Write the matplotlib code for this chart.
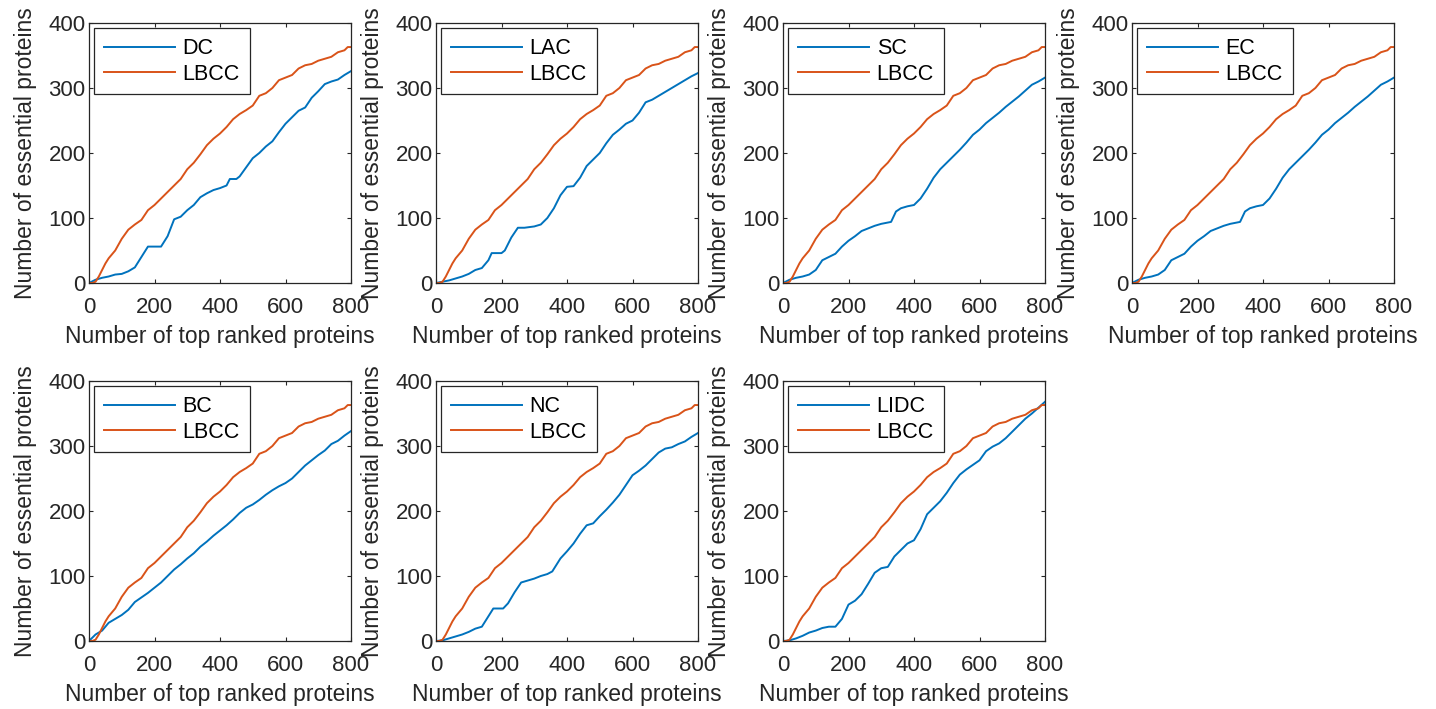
import matplotlib.pyplot as plt
import numpy as np

plt.rcParams['font.family'] = ['Liberation Sans', 'DejaVu Sans']

# x positions (number of top ranked proteins) and LBCC curve, shared by all panels
lbcc_x = [0, 10, 20, 30, 40, 50, 60, 80, 100, 120, 140, 160, 180, 200, 220, 240, 260, 280,
          300, 320, 340, 360, 380, 400, 420, 440, 460, 480, 500, 520, 540, 560, 580, 600,
          620, 640, 660, 680, 700, 720, 740, 760, 780, 790, 800]
lbcc_y = [0, 0, 2, 10, 20, 30, 38, 50, 68, 82, 90, 97, 112, 120, 130, 140, 150, 160,
          175, 185, 198, 212, 222, 230, 240, 252, 260, 266, 273, 288, 292, 300, 312, 316,
          320, 330, 335, 337, 342, 345, 348, 355, 358, 363, 363]

dc_x = [0, 20, 40, 60, 80, 100, 120, 140, 160, 180, 200, 220, 240, 260, 280, 300, 320, 340,
        360, 380, 400, 420, 430, 450, 460, 480, 500, 520, 540, 560, 580, 600, 620, 640, 660,
        680, 700, 720, 740, 760, 780, 800]
dc_y = [0, 5, 8, 10, 13, 14, 18, 24, 40, 56, 56, 56, 72, 98, 102, 112, 120, 132,
        138, 143, 146, 150, 160, 160, 164, 178, 192, 200, 210, 218, 232, 245, 255, 265, 270,
        285, 295, 306, 310, 313, 320, 326]

lac_x = [0, 20, 40, 60, 80, 100, 120, 140, 160, 170, 200, 210, 230, 250, 270, 300, 320, 340,
         360, 380, 400, 420, 440, 460, 480, 500, 520, 540, 560, 580, 600, 620, 640, 660, 680,
         700, 720, 740, 760, 780, 800]
lac_y = [0, 2, 4, 7, 10, 14, 20, 23, 35, 46, 46, 50, 70, 85, 85, 87, 90, 100,
         115, 135, 148, 149, 162, 180, 190, 200, 215, 228, 236, 245, 250, 262, 278, 282, 288,
         294, 300, 306, 312, 318, 323]

sc_x = [0, 20, 40, 60, 80, 100, 120, 140, 160, 180, 200, 220, 240, 260, 280, 300, 320, 330,
        345, 360, 380, 400, 420, 440, 460, 480, 500, 520, 540, 560, 580, 600, 620, 640, 660,
        680, 700, 720, 740, 760, 780, 800]
sc_y = [0, 5, 8, 10, 13, 20, 35, 40, 45, 56, 65, 72, 80, 84, 88, 91, 93, 94,
        110, 115, 118, 120, 130, 145, 162, 175, 185, 195, 205, 216, 228, 236, 246, 254, 262,
        271, 279, 287, 296, 305, 310, 316]

ec_x = sc_x
ec_y = [0, 5, 8, 10, 13, 20, 35, 40, 45, 56, 65, 72, 80, 84, 88, 91, 93, 94,
        110, 115, 118, 120, 130, 145, 162, 175, 185, 195, 205, 216, 228, 236, 246, 254, 262,
        271, 279, 287, 296, 305, 310, 316]

bc_x = [0, 10, 20, 40, 60, 80, 100, 120, 140, 160, 180, 200, 220, 240, 260, 280, 300, 320,
        340, 360, 380, 400, 420, 440, 460, 480, 500, 520, 540, 560, 580, 600, 620, 640, 660,
        680, 700, 720, 740, 760, 780, 800]
bc_y = [0, 5, 10, 16, 28, 34, 40, 48, 60, 67, 74, 82, 90, 100, 110, 118, 127, 135,
        145, 153, 162, 170, 178, 187, 197, 205, 210, 217, 225, 232, 238, 243, 250, 260, 270,
        278, 286, 293, 303, 308, 316, 323]

nc_x = [0, 20, 40, 60, 80, 100, 120, 140, 160, 175, 205, 220, 240, 260, 280, 300, 320, 340,
        355, 380, 400, 420, 440, 460, 480, 500, 520, 540, 560, 580, 600, 620, 640, 660, 680,
        700, 720, 740, 760, 780, 800]
nc_y = [0, 1, 4, 7, 10, 14, 19, 22, 38, 50, 50, 58, 75, 90, 93, 96, 100, 103,
        107, 127, 138, 150, 165, 178, 181, 192, 202, 213, 225, 240, 255, 262, 270, 280, 290,
        296, 298, 303, 307, 314, 320]

lidc_x = [0, 20, 40, 60, 80, 100, 120, 140, 160, 180, 200, 220, 240, 260, 280, 300, 320, 340,
          360, 380, 400, 420, 440, 460, 480, 500, 520, 540, 560, 580, 600, 620, 640, 660, 680,
          700, 720, 740, 760, 780, 800]
lidc_y = [0, 1, 4, 8, 13, 16, 20, 22, 22, 34, 56, 62, 72, 88, 105, 112, 114, 130,
          140, 150, 155, 172, 195, 205, 215, 228, 243, 256, 264, 271, 278, 292, 299, 304, 312,
          322, 332, 342, 350, 359, 368]

methods = ['DC', 'LAC', 'SC', 'EC', 'BC', 'NC', 'LIDC']
method_x = [dc_x, lac_x, sc_x, ec_x, bc_x, nc_x, lidc_x]
method_y = [dc_y, lac_y, sc_y, ec_y, bc_y, nc_y, lidc_y]

blue = '#0072BD'
orange = '#D95319'
dark = '#262626'

W, H = 1436, 709
fig = plt.figure(figsize=(W / 100, H / 100), dpi=100)

# axes boxes in pixels: left, top
lefts = [89, 436, 783, 1132]
tops = [23, 381]
aw, ah = 262, 260

for i, name in enumerate(methods):
    row, col = divmod(i, 4)
    l, t = lefts[col], tops[row]
    ax = fig.add_axes([l / W, (H - t - ah) / H, aw / W, ah / H])
    ax.plot(method_x[i], method_y[i], color=blue, lw=1.4, label=name)
    ax.plot(lbcc_x, lbcc_y, color=orange, lw=1.4, label='LBCC')
    ax.set_xlim(0, 800)
    ax.set_ylim(0, 400)
    ax.set_xticks([0, 200, 400, 600, 800])
    ax.set_yticks([0, 100, 200, 300, 400])
    ax.tick_params(direction='in', top=True, right=True, length=3, width=0.8,
                   colors=dark, labelsize=16)
    ax.tick_params(axis='x', pad=10)
    ax.tick_params(axis='y', pad=2.5)
    for s in ax.spines.values():
        s.set_color(dark)
        s.set_linewidth(0.9)
    ax.set_xlabel('Number of top ranked proteins', fontsize=16.5, color=dark, labelpad=5)
    ax.set_ylabel('Number of essential proteins', fontsize=16.5, color=dark, labelpad=8)
    leg = ax.legend(loc='upper left', fontsize=15.5, fancybox=False, framealpha=1,
                    edgecolor=dark, handlelength=3.3, handletextpad=0.35,
                    borderaxespad=0.25, borderpad=0.45, labelspacing=0.22)
    leg.get_frame().set_linewidth(0.9)

fig.savefig('out.png', dpi=100)
